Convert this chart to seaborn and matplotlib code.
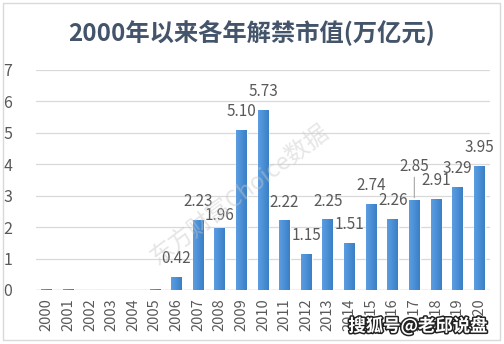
import numpy as np
import pandas as pd
import matplotlib
matplotlib.use("Agg")
import matplotlib.pyplot as plt
import matplotlib.patches as mpatches
import matplotlib.patheffects as pe
import seaborn as sns

# ---- data ----
years = [str(y) for y in range(2000, 2021)]
values = [0.02, 0.02, 0.0, 0.0, 0.0, 0.02, 0.42, 2.23, 1.96, 5.10, 5.73,
          2.22, 1.15, 2.25, 1.51, 2.74, 2.26, 2.85, 2.91, 3.29, 3.95]
labels = ["", "", "", "", "", "", "0.42", "2.23", "1.96", "5.10", "5.73",
          "2.22", "1.15", "2.25", "1.51", "2.74", "2.26", "2.85", "2.91", "3.29", "3.95"]
title = "2000年以来各年解禁市值(万亿元)"
yticks = [0, 1, 2, 3, 4, 5, 6, 7]
# label lift above bar top (pixels, label centre)
label_dy = [18] * 21
label_dy[8] = 13
label_dy[17] = 34

sns.set_theme(style="white")
plt.rcParams['font.family'] = ['Noto Sans CJK SC', 'DejaVu Sans']

df = pd.DataFrame({"year": years, "value": values})

fig = plt.figure(figsize=(5.04, 3.44), dpi=100)
ax = fig.add_axes([36/504, 1 - 290/344, (490 - 36)/504, 220/344])

sns.barplot(data=df, x="year", y="value", color="#4a8fd6", width=0.5,
            saturation=1, ax=ax, zorder=3)

# gradient fill on bars
grad = np.linspace(0, 1, 64).reshape(1, -1)
from matplotlib.colors import LinearSegmentedColormap
cmap = LinearSegmentedColormap.from_list("g", ["#5d9de0", "#4a8fd6", "#3b7fc4"])
for p in ax.patches:
    x0, y0 = p.get_x(), p.get_y()
    w, h = p.get_width(), p.get_height()
    if h <= 0:
        continue
    im = ax.imshow(grad, extent=[x0, x0 + w, y0, y0 + h], aspect="auto",
                   cmap=cmap, zorder=3.5, origin="lower")
    im.set_clip_path(p)

ax.set_xlim(-0.5, len(years) - 0.5)
ax.set_ylim(0, 7)
ax.set_yticks(yticks)
ax.set_yticklabels([str(t) for t in yticks])
ax.grid(axis="y", color="#d9d9d9", linewidth=0.9, zorder=0)
ax.axhline(0, color="#d0d0d0", linewidth=1.0, zorder=2)
for s in ax.spines.values():
    s.set_visible(False)
ax.set_xlabel("")
ax.set_ylabel("")
ax.tick_params(axis="y", length=0, pad=17, labelsize=11.5, labelcolor="#595959")
ax.tick_params(axis="x", length=0, pad=6, labelsize=10.5, labelcolor="#595959",
               rotation=90)

# value labels
for i, (v, lab) in enumerate(zip(values, labels)):
    if not lab:
        continue
    ax.annotate(lab, xy=(i, v), xytext=(0, label_dy[i]), textcoords="offset pixels",
                ha="center", va="center", fontsize=11, color="#595959", zorder=6)
    if label_dy[i] > 25:
        ax.annotate("", xy=(i, v), xytext=(0, label_dy[i] - 8),
                    textcoords="offset pixels",
                    arrowprops=dict(arrowstyle="-", color="#a6a6a6", lw=0.8),
                    zorder=6)

# title
fig.text(0.5, 1 - 33/344, title, ha="center", va="center", fontsize=17.5,
         fontweight="bold", color="#44546a")

# watermarks
fig.text(240/504, 1 - 195/344, "东方财富Choice数据", ha="center", va="center",
         fontsize=17, color="#c8c8c8", alpha=0.45, rotation=37, zorder=10)
fig.text(418/504, 1 - 326/344, "搜狐号@老邱说盘", ha="center", va="center",
         fontsize=12.5, fontweight="bold", color="white", zorder=11,
         path_effects=[pe.withStroke(linewidth=2.2, foreground="#222222")])

# outer border
fig.patches.append(mpatches.Rectangle((3/504, 4/344), 497/504, 337/344,
                                      transform=fig.transFigure, fill=False,
                                      edgecolor="#d9d9d9", linewidth=1.0))

fig.savefig("out.png", dpi=100)
